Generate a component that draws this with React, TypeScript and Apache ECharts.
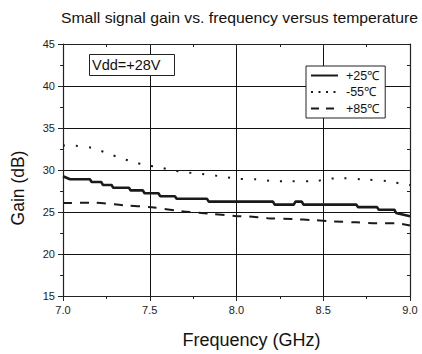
import React, { useEffect, useRef } from "react";
import * as echarts from "echarts";

const title = "Small signal gain vs. frequency versus temperature";
const annotation = "Vdd=+28V";
const seriesNames = ["+25℃", "-55℃", "+85℃"];

const freq25 = [7.0, 7.04, 7.155, 7.165, 7.22, 7.23, 7.28, 7.29, 7.38, 7.39, 7.46, 7.47, 7.55, 7.56, 7.645, 7.655, 7.83, 7.84, 8.21, 8.22, 8.33, 8.34, 8.376, 8.386, 8.69, 8.70, 8.81, 8.82, 8.91, 8.92, 9.0];
const gain25 = [29.26, 28.9, 28.9, 28.57, 28.57, 28.22, 28.22, 27.88, 27.88, 27.57, 27.57, 27.23, 27.23, 26.88, 26.88, 26.57, 26.57, 26.23, 26.23, 25.88, 25.88, 26.23, 26.23, 25.88, 25.88, 25.58, 25.58, 25.27, 25.27, 24.88, 24.5];

const freqM55 = [7.0, 7.06, 7.175, 7.25, 7.33, 7.405, 7.48, 7.56, 7.64, 7.71, 7.79, 7.87, 7.94, 8.0, 8.12, 8.2, 8.3, 8.46, 8.5, 8.6, 8.73, 8.88, 8.97, 9.0];
const gainM55 = [32.92, 32.9, 32.6, 32.03, 31.45, 30.96, 30.57, 30.3, 29.92, 29.73, 29.54, 29.35, 29.15, 28.96, 28.88, 28.7, 28.65, 28.65, 28.88, 29.03, 28.88, 28.65, 28.27, 28.2];

const freq85 = [7.0, 7.175, 7.35, 7.51, 7.68, 7.84, 7.99, 8.07, 8.18, 8.33, 8.44, 8.56, 8.69, 8.81, 8.92, 9.0];
const gain85 = [26.07, 26.1, 25.8, 25.57, 25.1, 24.8, 24.53, 24.46, 24.27, 24.15, 24.04, 23.88, 23.77, 23.65, 23.65, 23.4];

const zip = (xs: number[], ys: number[]) => xs.map((x, i) => [x, ys[i]]);

const FONT = "'Liberation Sans', Arial, sans-serif";

export default function App() {
  const ref = useRef<HTMLDivElement>(null);
  useEffect(() => {
    if (!ref.current) return;
    const chart = echarts.init(ref.current, undefined, { renderer: "svg" });
    const axisCommon = {
      axisLine: { show: true, lineStyle: { color: "#222", width: 1.2 } },
      axisTick: { show: true, length: 5, lineStyle: { color: "#222" } },
      minorTick: { show: true, splitNumber: 2, length: 3, lineStyle: { color: "#222" } },
    };
    chart.setOption({
      animation: false,
      backgroundColor: "#fff",
      textStyle: { fontFamily: FONT },
      grid: { left: 63, right: 12, top: 44, bottom: 50 },
      legend: {
        orient: "vertical",
        left: 306,
        top: 66,
        padding: [3, 6, 3, 4],
        itemWidth: 27,
        itemHeight: 14,
        itemGap: 3.5,
        borderColor: "#222",
        borderWidth: 1,
        backgroundColor: "#fff",
        itemStyle: { opacity: 0 },
        textStyle: { fontSize: 12.5, color: "#111", fontFamily: FONT, padding: [0, 0, 0, 3] },
        data: [
          { name: seriesNames[0], lineStyle: { width: 2 } },
          { name: seriesNames[1], lineStyle: { width: 2, type: [2, 5.5] } },
          { name: seriesNames[2], lineStyle: { width: 2, type: [8, 7] } },
        ],
      },
      xAxis: [
        {
          type: "value",
          min: 7,
          max: 9,
          interval: 0.5,
          ...axisCommon,
          axisLabel: {
            fontSize: 11,
            color: "#222",
            fontFamily: FONT,
            margin: 8,
            formatter: (v: number) => v.toFixed(1),
          },
          splitLine: { show: true, lineStyle: { color: "#111", width: 1 } },
          name: "Frequency (GHz)",
          nameLocation: "middle",
          nameGap: 35,
          nameTextStyle: { fontSize: 18, color: "#111", fontFamily: FONT, padding: [0, 0, 0, 30] },
        },
        {
          type: "value",
          position: "top",
          min: 7,
          max: 9,
          interval: 0.5,
          ...axisCommon,
          axisTick: { show: true, inside: true, length: 4, lineStyle: { color: "#222" } },
          minorTick: { show: true, inside: true, splitNumber: 2, length: 3, lineStyle: { color: "#222" } },
          axisLabel: { show: false },
          splitLine: { show: false },
        },
      ],
      yAxis: [
        {
          type: "value",
          min: 15,
          max: 45,
          interval: 5,
          ...axisCommon,
          axisLabel: { fontSize: 11, color: "#222", fontFamily: FONT, margin: 8 },
          splitLine: { show: true, lineStyle: { color: "#111", width: 1 } },
        },
        {
          type: "value",
          position: "right",
          min: 15,
          max: 45,
          interval: 5,
          ...axisCommon,
          axisTick: { show: true, inside: true, length: 4, lineStyle: { color: "#222" } },
          minorTick: { show: true, inside: true, splitNumber: 2, length: 3, lineStyle: { color: "#222" } },
          axisLabel: { show: false },
          splitLine: { show: false },
        },
      ],
      graphic: [
        {
          type: "text",
          x: 61,
          y: 18.5,
          scaleX: 1.125,
          style: { text: title, fontSize: 14, fill: "#111", fontFamily: FONT, verticalAlign: "middle" },
        },
        {
          type: "rect",
          shape: { x: 89.5, y: 54.5, width: 85, height: 21 },
          style: { fill: "#fff", stroke: "#222", lineWidth: 1 },
          z: 10,
        },
        {
          type: "text",
          x: 92,
          y: 65,
          style: { text: annotation, fontSize: 14.5, fill: "#111", fontFamily: FONT, verticalAlign: "middle" },
          z: 11,
        },
        {
          type: "text",
          x: 18,
          y: 188,
          rotation: Math.PI / 2,
          style: {
            text: "Gain (dB)",
            fontSize: 17.5,
            fill: "#111",
            fontFamily: FONT,
            align: "center",
            verticalAlign: "middle",
          },
        },
      ],
      series: [
        {
          name: seriesNames[0],
          type: "line",
          data: zip(freq25, gain25),
          symbol: "none",
          lineStyle: { color: "#1a1a1a", width: 2.6, type: "solid" },
          itemStyle: { color: "#1a1a1a" },
          z: 5,
        },
        {
          name: seriesNames[1],
          type: "line",
          data: zip(freqM55, gainM55),
          symbol: "none",
          smooth: 0.3,
          lineStyle: { color: "#1a1a1a", width: 2, type: [2, 11], cap: "butt" },
          itemStyle: { color: "#1a1a1a" },
          z: 5,
        },
        {
          name: seriesNames[2],
          type: "line",
          data: zip(freq85, gain85),
          symbol: "none",
          smooth: 0.3,
          lineStyle: { color: "#1a1a1a", width: 2, type: [9, 8], cap: "butt" },
          itemStyle: { color: "#1a1a1a" },
          z: 5,
        },
      ],
    });
    return () => chart.dispose();
  }, []);
  return <div ref={ref} style={{ width: 422, height: 354, position: "absolute", left: 0, top: 0 }} />;
}
